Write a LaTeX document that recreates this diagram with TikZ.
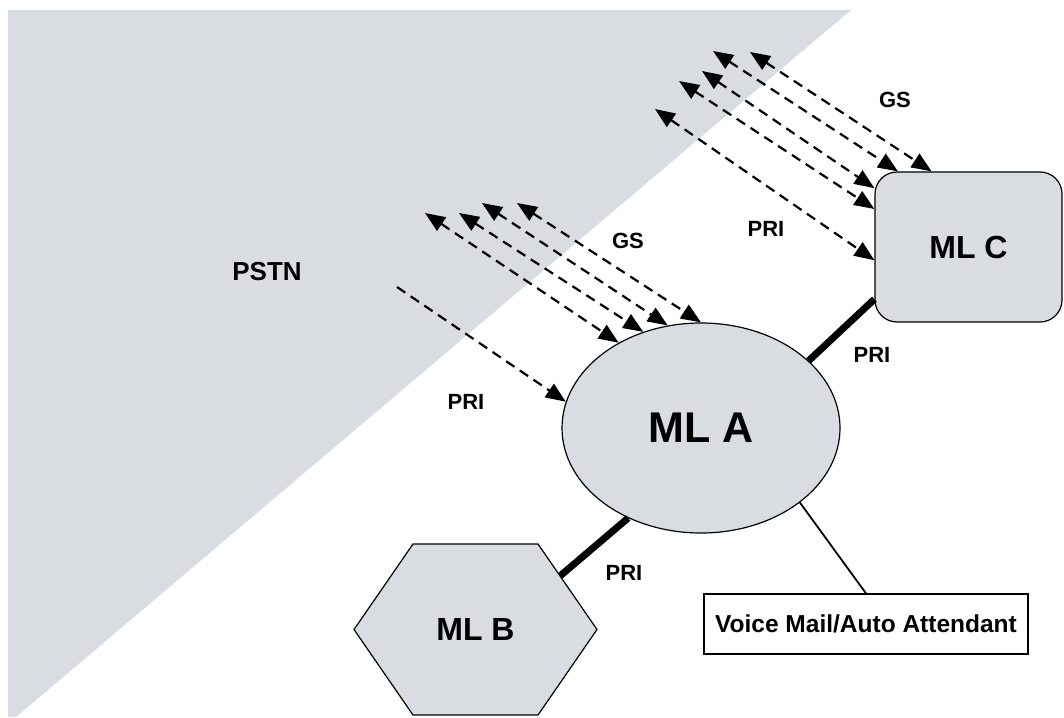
\documentclass[tikz,border=0pt]{standalone}
\usepackage{fontspec}
\setmainfont{Liberation Sans}
\usetikzlibrary{shapes.geometric, arrows.meta}
\definecolor{pstngray}{RGB}{217,220,225}

\begin{document}
\begin{tikzpicture}[x=1pt, y=-1pt,
        ml/.style={draw, line width=1.2pt, fill=pstngray, inner sep=0pt,
            font=\bfseries\fontsize{32}{32}\selectfont},
        lbl/.style={font=\bfseries\fontsize{22}{22}\selectfont},
        trunk/.style={line width=7pt},
        gsline/.style={line width=2.2pt, dash pattern=on 10pt off 6.5pt,
            {Triangle[length=20pt,width=16pt]}-{Triangle[length=20pt,width=16pt]}},
        priline/.style={line width=2.2pt, dash pattern=on 10pt off 6.5pt,
            -{Triangle[length=20pt,width=16pt]}}]
            \useasboundingbox (0,0) rectangle (1064,717);
            \fill[pstngray] (8,10) -- (851,10) -- (16,717) -- (8,717) -- cycle;
                \node[lbl, font=\bfseries\fontsize{26}{26}\selectfont] (pstn) at (267,272) {PSTN};

            \node[ml, ellipse, minimum width=278pt, minimum height=210pt,
                font=\bfseries\fontsize{43}{43}\selectfont] (mla) at (701,428) {ML A};
            \node[ml, rounded corners=22pt, minimum width=187pt, minimum height=150pt] (mlc) at (968.5,247) {ML C};
            \draw[line width=1.2pt, fill=pstngray] (354,629.5) -- (413,544) -- (538,544) -- (597,629.5)
                -- (538,715) -- (413,715) -- cycle;
            \node[ml, draw=none, fill=none] (mlb) at (475.5,629.5) {ML B};
            \coordinate (mlbedge) at (560,576);
            \node[draw, line width=1.2pt, minimum width=324pt, minimum height=60pt,
                font=\bfseries\fontsize{24.5}{24.5}\selectfont] (vm) at (866,624) {Voice Mail/Auto Attendant};

            \draw[trunk] (mla.32) -- (mlc.209.5);
                \node[lbl] at (872,355) {PRI};
            \draw[trunk] (mlbedge) -- (mla.-129);
                \node[lbl] at (624,573) {PRI};
            \draw[line width=1.8pt] (mla.-37) -- (vm.north);

            \coordinate (gsa1) at (425,213);
            \coordinate (gsa2) at (459,213);
            \coordinate (gsa3) at (482,203);
            \coordinate (gsa4) at (517,203);
            \coordinate (pria) at (397,287);
            \draw[gsline] (gsa1) -- (mla.134);
            \draw[gsline] (gsa2) -- (mla.121.6);
            \draw[gsline] (gsa3) -- (mla.108.8);
            \draw[gsline] (gsa4) -- (mla.90.5);
            \draw[priline] (pria) -- (mla.169.4);
                \node[lbl] at (628,241) {GS};
                \node[lbl] at (466,402) {PRI};

            \coordinate (gsc1) at (750,52);
            \coordinate (gsc2) at (713,51);
            \coordinate (gsc3) at (702,71);
            \coordinate (gsc4) at (679,81);
            \coordinate (pric) at (655,109);
            \draw[gsline] (gsc1) -- (mlc.116);
            \draw[gsline] (gsc2) -- (mlc.133.6);
            \draw[gsline] (gsc3) -- (mlc.148.6);
            \draw[gsline] (gsc4) -- (mlc.158.4);
            \draw[gsline] (pric) -- (mlc.188.5);
                \node[lbl] at (895,100) {GS};
                \node[lbl] at (766,229) {PRI};
      \end{tikzpicture}
\end{document}
